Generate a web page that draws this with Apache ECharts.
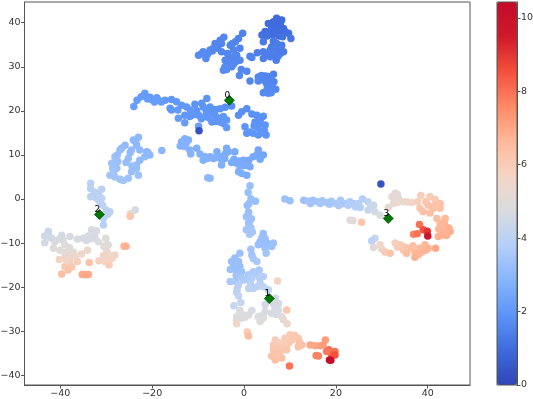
<!DOCTYPE html>
<html><head><meta charset="utf-8">
<style>html,body{margin:0;padding:0;background:#fff}#c{width:533px;height:399px}</style>
<script src="https://cdn.jsdelivr.net/npm/echarts@6/dist/echarts.min.js"></script>
</head><body><div id="c"></div>
<script>
const xTicks=[-40,-20,0,20,40];
const yTicks=[-40,-30,-20,-10,0,10,20,30,40];
const barTicks=[0,2,4,6,8,10];
const valueMax=10.43;
const coolwarm=['#2f46b5','#3f6adc','#5c94f8','#86b4fe','#b5cff8','#d9dce0','#f4d5c5','#ffb99a','#ff8a65','#f5503c','#d01a2a','#c40a2a'];
const topCluster=[[7.1,41,.95],[8.2,40.6,.95],[6.4,40.2,1],[5.3,39.8,1],[7.5,39.5,.95],[8.6,38.7,1],[6,38.7,1],[4.6,38,1.05],[3.9,37.2,1.1],[9.7,37.6,1.1],[10.2,36.4,1.2],[7.1,38,1],[8.9,38,1.05],[5.7,38,1.05],[7.9,39.8,.95],[6.8,39.1,1],[7.9,38.3,1],[4.2,35.7,1.3],[7.1,35.3,1.3],[8.2,34.9,1.3],[6,34.5,1.35],[2.9,33.2,1.4],[4.2,33.4,1.4],[5.7,33.8,1.35],[7.1,33.8,1.35],[8.6,33.4,1.35],[4.2,31.9,1.4],[5.7,32.3,1.4],[7,31.5,1.4],[6.8,32.6,1.4],[7.9,33,1.4],[7.5,34.5,1.35],[6.5,34.9,1.35],[6.2,37.2,1.05],[7.6,37,1.05],[5,37,1.1],[8.4,36.8,1.1],[5.2,33,1.4],[6.4,33.2,1.4],[7.4,32.4,1.4],[6.4,35.8,1.3]];
const upperLeft=[[-9.9,32.6,1.7],[-8.9,33.4,1.7],[-8.3,31.9,1.7],[-7.4,33.8,1.65],[-6.3,35.3,1.6],[-5.2,36,1.6],[-4.4,36.7,1.6],[-6.7,34.2,1.65],[-5.6,34.9,1.6],[-4.9,33.4,1.6],[-4.9,35.3,1.6],[-.3,37.6,1.5],[-1.2,36.4,1.5],[-1.9,35.7,1.55],[-3,34.9,1.55],[-.9,34.2,1.55],[-2.3,33.8,1.6],[-3.6,33,1.6],[-1.6,32.6,1.6],[-.9,31.5,1.6],[-4.1,31.5,1.65],[-3,31.1,1.65],[-1.9,31.1,1.65],[-3.8,30.4,1.65],[-2.7,30,1.65],[-4.5,29.2,1.7],[-3.8,29.4,1.7],[1.3,32.4,1.55],[1.7,32.1,1.55],[-.6,29.4,1.6],[.6,29,1.6],[-1,28,1.65],[1.3,26.8,1.6],[-9.3,32.9,1.7],[-7.9,32.9,1.7],[-6.9,33.6,1.65],[-5.9,34.2,1.6],[-2.6,35.2,1.55],[-3.2,32,1.6],[-2.4,32.2,1.6],[-3.3,30.8,1.65],[-2.3,30.6,1.65],[-4.2,29.9,1.7]];
const midCluster=[[3.1,27.7,1.6],[4.6,27.9,1.55],[6.4,28.3,1.5],[3.1,26.8,1.65],[4.2,27,1.6],[5.7,27.1,1.6],[6.5,26.6,1.55],[5.3,25.6,1.65],[6,25.8,1.6],[6.9,24.9,1.6],[4.9,26.2,1.6],[4.2,24.1,1.7],[5.3,24,1.7],[5.9,24.1,1.7],[3.8,28,1.6],[5.2,27.8,1.55],[5,24.9,1.65]];
const centerBand=[[-23.3,22.4,2.15],[-24,21,2.2],[-21.6,24,2.15],[-20.5,23.1,2.1],[-20,22.5,2.1],[-19,23,2.1],[-18,22,2.1],[-17.2,22.4,2.05],[-16.1,20.6,2.05],[-14.4,20.2,2.05],[-15.8,22.6,2],[-14.7,22.07,2],[-13.6,21.3,2],[-12.5,20.9,2],[-15.8,20.2,2],[-14.3,18.3,2.1],[-12.9,17.3,2.1],[-12.9,19,2],[-11.8,18.7,2],[-10.7,21.5,1.9],[-9.2,21.7,1.9],[-8.1,22.8,1.9],[-8.9,20.9,1.9],[-7.4,20.9,1.9],[-9.9,19,2],[-8.5,18.7,2],[-7,19.4,1.95],[-5.9,18.5,2],[-4.5,18.7,2],[-7,17.5,2],[-5.2,17.5,2],[-3.8,17.9,2],[-3.8,16.2,2.05],[-5.2,20.5,1.9],[-4.1,20.8,1.8],[-2.7,21.1,1.75],[-1.2,19,1.8],[-.5,19.8,1.8],[.6,20.5,1.75],[1.7,19.3,1.8],[2.8,19,1.85],[4.2,18.8,1.85],[2.4,17.5,1.85],[3.5,17.2,1.85],[4.6,16.8,1.9],[.2,16.4,1.9],[.6,14.9,1.9],[2,14.9,1.95],[3.1,14.5,1.95],[4.8,14.5,1.95],[-9.9,16.5,2.2],[-22.4,23.2,2.15],[-21,22.7,2.1],[-19.5,22,2.1],[-18.6,22.4,2.1],[-11.7,20.2,2],[-10.3,20,1.95],[-11,19.1,2],[-8.2,19.9,1.95],[-6.4,19.2,1.95],[-6.2,20.3,1.9],[-7.6,18.4,2],[-6.2,17.6,2],[-4.6,17.2,2],[-9.3,18.2,2],[3,16.2,1.9],[3.6,18.2,1.85],[2.2,16.6,1.9],[4.4,15.6,1.95],[3.6,15,1.95],[1.3,15.2,1.95]];
const outlierPoints=[[-9.8,15.5,.3],[29.8,3.4,.4]];
const lowerBand=[[-12.9,13.7,2.75],[-13.6,13,2.8],[-12.1,13.4,2.75],[-13.9,12,2.8],[-12.9,11.9,2.8],[-11.8,11.1,2.8],[-11.6,10.2,2.85],[-10.3,11.5,2.7],[-9.6,10.2,2.75],[-8.5,9.6,2.7],[-8.9,8.8,2.8],[-7.4,9.6,2.7],[-5.9,10.7,2.65],[-6.7,9.2,2.7],[-5.2,9.6,2.65],[-3.8,11.5,2.6],[-3.4,10.7,2.6],[-4.1,10.2,2.6],[-2,10.7,2.55],[-4.9,7.7,2.7],[-2.7,8.3,2.6],[-1.6,8.1,2.6],[-.9,7.3,2.65],[-1.2,6.2,2.7],[-.1,8.8,2.5],[1,8.8,2.5],[2,9.6,2.45],[3.1,11.1,2.4],[4.2,10,2.4],[3.5,9,2.45],[1.3,7.3,2.55],[.6,5.4,2.6],[-7.4,4.7,3],[-.5,5.8,2.65],[-12.6,12.7,2.8],[-8,9.2,2.75],[-6,9.4,2.7],[-4.8,8.8,2.7],[-4.2,9.2,2.65],[-2.2,9,2.6],[-1,8.6,2.55],[.2,7.6,2.6],[2.8,10,2.45],[-7.9,4.8,3]];
const ringCluster=[[-23,14,3],[-24.1,13.4,3],[-23.4,12.2,3.05],[-25.9,12.2,3.1],[-24.5,11.1,3.1],[-27,11.1,3.15],[-28.1,9.6,3.25],[-22.7,11.1,3.05],[-21.2,10.7,3],[-20.5,10,3],[-21.6,9.6,3.05],[-17.9,11,2.9],[-22.7,8.8,3.1],[-28.8,8.1,3.3],[-25.7,8.3,3.2],[-23.4,7.7,3.15],[-27.7,7,3.3],[-24.5,6.2,3.25],[-23.4,7,3.2],[-29.2,5.4,3.4],[-28.1,5,3.4],[-27,4.5,3.4],[-26.3,4.2,3.4],[-25.2,4.7,3.35],[-23,5.4,3.3],[-25.2,9.2,3.15],[-23.6,13,3],[-26.6,11.6,3.15],[-28.6,7,3.35],[-28.4,6,3.4],[-27.5,8.5,3.25],[-27.6,10,3.2],[-24.4,7.5,3.2],[-20.9,10.5,3],[-24.8,10.5,3.1]];
const leftColumn=[[-33.4,3.6,3.9],[-33.4,2.4,3.95],[-31,2.2,3.95],[-31.7,1.3,4],[-32.6,1.6,4],[-33.4,.5,4],[-32.1,.2,4],[-31,.2,4],[-30.8,-1.4,4],[-31.4,-.6,4],[-29.2,-2.9,4],[-30,-2.5,4],[-30.6,-4.4,3.9],[-30.6,-5.9,3.9],[-29.7,-3.5,4],[-31.9,.9,4],[-32.4,.8,4]];
const leftLower=[[-23.7,-2.5,4.6],[-24.7,-3.3,5],[-24.8,-3.9,6.2],[-42.6,-7.4,4.3],[-43.4,-8.4,4.4],[-43.4,-9.9,4.6],[-41.9,-8.9,4.5],[-39.7,-8.2,4.6],[-41.2,-9.7,4.7],[-37.9,-8.5,4.7],[-39.4,-9.3,4.7],[-39,-10.4,4.9],[-36.3,-9.1,4.7],[-35,-8.9,4.7],[-33.2,-7,4.7],[-32.1,-7.2,4.7],[-33.9,-8.4,4.7],[-32.5,-8.4,4.7],[-31.7,-9.7,4.8],[-30.1,-8.9,4.9],[-29.6,-10.4,5],[-41.5,-11.2,5],[-40.1,-11.6,5],[-38.6,-12,5.1],[-37.2,-12,5.2],[-34.1,-11.6,5.3],[-35.4,-12.5,5.5],[-29.9,-11.9,5.4],[-28.1,-12.7,5.6],[-40.2,-13.7,5.7],[-37.9,-13.5,5.6],[-36.3,-14.2,5.9],[-33.7,-14.4,6.3],[-31.6,-14,5.8],[-30.3,-14.2,5.8],[-29.4,-15,6],[-28.8,-13.5,5.7],[-37.9,-14.6,5.9],[-39,-15.3,6.1],[-38.3,-16.1,6.3],[-39.7,-17,6.5],[-35.2,-17.1,7],[-34.4,-17.2,7],[-33.9,-17.1,7],[-25.7,-10.7,6.8],[-26.1,-10.7,6.8],[-42.2,-8.7,4.5],[-40.4,-9.2,4.7],[-34.3,-9.4,4.7],[-33.1,-9,4.7],[-38,-11,5],[-38.8,-13,5.4],[-37.5,-15.4,6.1],[-30.5,-10.7,5.1],[-29.2,-12.8,5.5],[-30.6,-12.9,5.6],[-29.8,-13.6,5.7],[-38.6,-14,5.7],[-39,-12.2,5.2],[-36.8,-13,5.5]];
const rightLine=[[8.9,0,3.3],[10,-.4,3.3],[13,-.3,3.3],[14,-.5,3.4],[15,-.3,3.4],[16,-.6,3.4],[17,-.4,3.5],[18,-.8,3.5],[19,-.5,3.5],[20,-1,3.6],[21,-.3,3.6],[22,-1,3.6],[23,-.6,3.7],[21.6,-1,3.6],[22.7,-1.4,3.7],[23.8,-1,3.7],[24.9,-1,3.8],[25.8,0,3.8],[25.3,-1.9,3.9],[27,-.6,4.1],[28.2,-1.4,4.3],[27,-2.5,4.3],[28.5,-2.9,4.6],[29.6,-3.6,4.8],[23.7,-4.9,5],[23.1,-4.8,5],[25.6,-5.3,6.2],[14.5,-1,3.4],[16.6,-1,3.5],[18.6,-1.2,3.5],[20.6,-1.5,3.6],[24.3,-1.8,3.8],[27.6,-1.6,4.3]];
const rightCloud=[[32.9,1.3,5],[32.2,.5,5.1],[33.6,.2,5.2],[32.5,-1,5.2],[31.4,-1.9,5.2],[34.7,-.6,5.4],[36.5,-.8,5.6],[38.5,.8,6],[37.8,-.6,5.9],[38.3,-2.1,6.2],[40.5,.5,6],[41.6,-.1,6.1],[42.7,-1,6.3],[40.1,-1.4,6.3],[41.2,-2.1,6.4],[42.7,-2.1,6.4],[39,-2.9,6.4],[40.5,-3.2,6.4],[42,-4.4,6.5],[43.8,-4.4,6.6],[42.7,-5.5,6.6],[43.8,-6.3,6.7],[44.9,-7.4,6.8],[43.4,-7.8,6.8],[42.3,-8.5,6.8],[44.1,-8.3,6.8],[33.4,1,5.1],[33.4,-.8,5.3],[35.6,-.7,5.5],[39.6,-.6,6.2],[41.6,-1.4,6.3],[42.4,-6.8,6.7],[43.6,-5.4,6.7],[43,-8.2,6.8],[44.6,-6.6,6.8]];
const rightRed=[[38.2,-5.8,8],[39,-7,8.5],[39.9,-7.3,9],[36.9,-8,7.7],[37.7,-7.9,8],[40,-8.4,9.8]];
const rightLower=[[28.5,-8.9,4.3],[27.8,-9.5,4],[28.2,-11,5],[29.6,-10.4,5.5],[30,-11.4,5.6],[30.7,-12,6],[31.8,-12.3,6.3],[32.9,-10,5.8],[34,-10.4,6],[34.7,-11.6,6.2],[35.4,-12.3,6.5],[36.1,-11.2,6.4],[37.2,-12,6.6],[37.2,-13.2,6.8],[38.3,-11.2,6.6],[39.4,-10.4,6.6],[40.1,-11.2,6.7],[38.7,-12,6.7],[41.7,-11.2,7],[33.4,-10.9,6],[35,-10.9,6.2],[36.8,-10.6,6.4],[38,-12.6,6.7],[39.6,-11.6,6.7]];
const centerColumn=[[1.3,3,3.2],[.9,1.5,3.2],[1.5,0,3.2],[2.5,-.5,3.2],[.7,-1.5,3.2],[1,-3,3.2],[.5,-4,3.3],[1.6,-4.5,3.3],[1,-5.5,3.3],[1.5,-6.5,3.4],[1.8,-7.5,3.5],[.5,-7,3.4],[1.2,-8,3.5],[4.2,-7.8,3.2],[4.6,-9,3.2],[3.5,-9.7,3.2],[5,-10,3.2],[6.4,-10,3.3],[3.1,-10.4,3.2],[4.6,-11.2,3.3],[6,-10.8,3.3],[4.8,-12.3,3.4],[3.9,-8.8,3.2],[4.2,-10.2,3.2],[1.1,-1,3.2],[1.2,-5,3.3]];
const lowerStem=[[1.5,-11.4,3.4],[-.9,-12.3,3.3],[1.7,-12.7,3.4],[2,-13.5,3.5],[2.8,-14.2,3.6],[-2.7,-14.2,3.2],[-1.2,-14.2,3.2],[-2.3,-15.3,3.2],[-.9,-15.3,3.2],[-3,-16,3.3],[-1.6,-16.5,3.3],[-.5,-16.5,3.3],[3.3,-16.1,3.6],[2,-16.5,3.6],[1,-17.2,3.6],[4.2,-17.6,3.8],[-3,-18.7,3.6],[-1.9,-18.7,3.6],[-.1,-18.4,3.7],[1.7,-18,3.8],[3.5,-19.1,4],[2.8,-19.9,4],[1,-20.3,4],[2,-20.3,4],[4.2,-19.9,4.1],[-1.2,-19.5,3.9],[-1.6,-21.2,4.1],[-1.2,-22,4.1],[-.7,-23.5,4.2],[-2.2,-24.2,4.2],[5.3,-20.6,4.2],[7.3,-18.6,5.7],[-2,-13.4,3.2],[-1.8,-15.4,3.2],[-1.7,-17.4,3.4],[-.6,-17.8,3.6],[.8,-18.2,3.7],[2.8,-17,3.7],[3.4,-18,3.8],[1.4,-19.2,3.9],[-1.5,-20.4,4]];
const greyPatch=[[4.6,-24,4.5],[6.8,-22.5,4.5],[6.4,-23.7,4.6],[7.5,-23.7,4.6],[6.8,-25.2,4.7],[6,-26,4.7],[7.5,-25.2,4.7],[9.3,-25.2,6.2],[8.2,-26.7,5],[8.6,-27.4,5.2],[9.4,-28.3,5.4],[-.9,-25.3,4.7],[-1.6,-26.7,4.8],[-.1,-26.3,4.8],[1,-26.3,4.8],[1.7,-25.3,4.7],[-1.6,-27.4,5],[-.5,-27,4.9],[3.1,-26.7,4.9],[3.5,-27.8,5],[4.6,-25.5,4.7],[4.2,-27,4.9],[-1.6,-28.3,5.5],[.7,-30.2,6],[.95,-31.1,6.5],[.2,-26.8,4.9],[-1,-26,4.8],[3.8,-26.5,4.8],[6.7,-24.4,4.6],[7,-26.2,4.7]];
const bottomPeach=[[10,-30.8,6],[11.8,-31.6,6.2],[8.9,-31.6,6],[7.5,-32.6,6],[6.4,-33.1,6.1],[8.2,-33.5,6.1],[10.4,-32,6.1],[12.6,-33.1,6.4],[11.8,-33.5,6.3],[9.7,-32.7,6.1],[6.4,-34.2,6.2],[7.9,-34.6,6.2],[6,-35.6,6.3],[6.8,-36.5,6.4],[8.2,-36.1,6.4],[9.3,-34.2,6.2],[7.5,-35.4,6.3],[7,-33.8,6.1],[8.9,-32.8,6],[7,-35,6.3],[11,-30.9,6.1],[12,-32.4,6.3],[6.8,-32,6]];
const bottomRed=[[14.4,-33.1,7],[15.5,-33.3,7],[16.6,-33.3,7.1],[17.7,-32,7.2],[17.2,-33.2,7.2],[18.5,-34.2,8],[19.8,-34.6,8],[19.1,-35.4,8.3],[18,-34.6,7.9],[15.7,-35.5,7.7],[16.2,-35.6,7.7],[9.9,-37.9,8],[19.8,-35.4,8.5],[18.6,-36.5,10],[18.9,-36.6,10.3]];
const centroidPoints=[[-3.2,22.4,'0'],[5.5,-22.6,'1'],[-31.5,-3.5,'2'],[31.4,-4.4,'3']];
const allPoints=[].concat(topCluster,upperLeft,midCluster,centerBand,lowerBand,ringCluster,leftColumn,leftLower,rightLine,rightCloud,rightLower,rightRed,centerColumn,lowerStem,greyPatch,bottomPeach,bottomRed,outlierPoints);

const font='"DejaVu Sans"';
const axisCol='#555';
const fmt=v=>String(v).replace('-','\u2212');
function ax(type,min,max,ticks,extra){return Object.assign({type:'value',min,max,
 splitLine:{show:false},
 axisLine:{show:true,onZero:false,lineStyle:{color:axisCol,width:1}},
 axisTick:{show:true,length:3.5,customValues:ticks,lineStyle:{color:axisCol,width:1}},
 axisLabel:{show:true,customValues:ticks,formatter:fmt,fontFamily:font,fontSize:9.5,color:'#333',margin:4}},extra);}

const chart=echarts.init(document.getElementById('c'),null,{renderer:'canvas'});
chart.setOption({animation:false,backgroundColor:'#fff',
 grid:[{left:24.5,top:2,width:445.5,height:383,show:true,borderColor:axisCol,borderWidth:1,backgroundColor:'transparent',outerBoundsMode:'none'},
       {left:497,top:2,width:20,height:383,show:true,borderColor:axisCol,borderWidth:1,backgroundColor:'transparent',z:10,outerBoundsMode:'none'}],
 xAxis:[ax('x',-47.8,49.2,xTicks,{gridIndex:0,position:'bottom'}),
        {type:'value',gridIndex:1,min:0,max:1,show:false}],
 yAxis:[ax('y',-42.2,44.7,yTicks,{gridIndex:0,position:'left'}),
        ax('y',0,valueMax,barTicks,{gridIndex:1,position:'right',z:10})],
 visualMap:{type:'continuous',seriesIndex:0,dimension:2,min:0,max:valueMax,calculable:false,realtime:false,hoverLink:false,
  left:497,top:2,padding:0,align:'left',itemWidth:20,itemHeight:383,text:null,showLabel:false,
  inRange:{color:coolwarm},textStyle:{fontSize:0}},
 series:[
  {type:'scatter',xAxisIndex:0,yAxisIndex:0,data:allPoints,symbol:'circle',symbolSize:7.5,silent:true,itemStyle:{opacity:1}},
  {type:'scatter',xAxisIndex:0,yAxisIndex:0,z:5,data:centroidPoints,symbol:'diamond',symbolSize:10,silent:true,
   itemStyle:{color:'#007a00',opacity:1,borderColor:'#004d00',borderWidth:.8},
   label:{show:true,position:'inside',offset:[-2,-5],formatter:p=>p.value[2],fontFamily:font,fontSize:9,color:'#000'}}
 ]});
</script></body></html>
